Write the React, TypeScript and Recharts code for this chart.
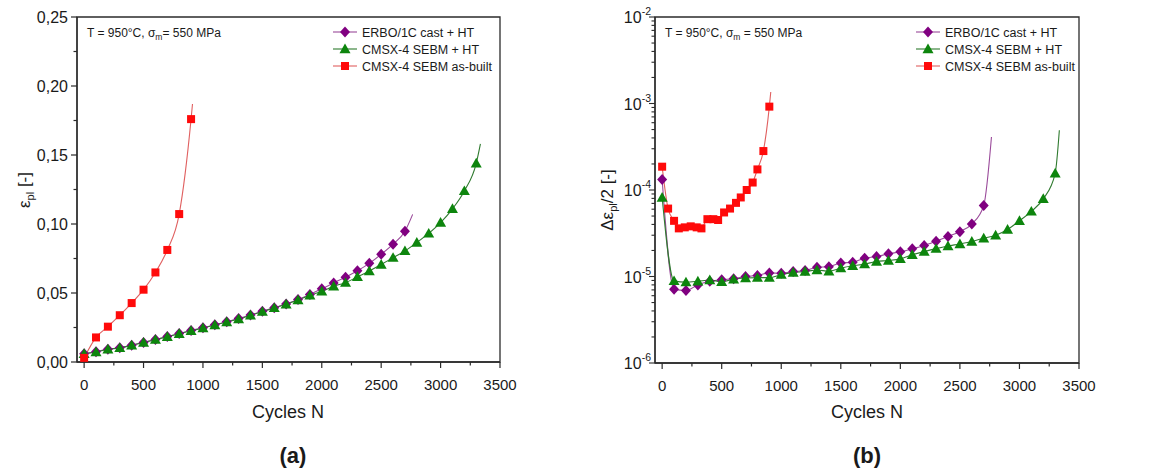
import React from "react";
import { ComposedChart, Line, Scatter, XAxis, YAxis, ReferenceArea } from "recharts";

const FONT = "Arial, 'Liberation Sans', sans-serif";
const AXIS = "#2b2b2b";
const TEXT = "#1a1a1a";

// cycle numbers of the measured points
const erboCycles = [0, 100, 200, 300, 400, 500, 600, 700, 800, 900, 1000, 1100, 1200, 1300, 1400, 1500, 1600, 1700, 1800, 1900, 2000, 2100, 2200, 2300, 2400, 2500, 2600, 2700];
const sebmHtCycles = [...erboCycles, 2800, 2900, 3000, 3100, 3200, 3300];
const asBuiltCyclesA = [0, 100, 200, 300, 400, 500, 600, 700, 800, 900];
const asBuiltCyclesB = [0, 50, 100, 140, 190, 240, 290, 330, 380, 430, 470, 520, 570, 620, 660, 710, 760, 800, 850, 900];

// (a) accumulated plastic strain
const erboStrain = [0.006, 0.0075, 0.0093, 0.0103, 0.0122, 0.0142, 0.0163, 0.0184, 0.0206, 0.0228, 0.0248, 0.027, 0.0292, 0.0315, 0.034, 0.0367, 0.0394, 0.0421, 0.0453, 0.049, 0.053, 0.0573, 0.0615, 0.0661, 0.0715, 0.078, 0.0854, 0.0948];
const sebmHtStrain = [0.006, 0.0072, 0.0092, 0.0102, 0.0121, 0.0141, 0.0162, 0.0183, 0.0205, 0.0226, 0.0246, 0.0268, 0.029, 0.0312, 0.0338, 0.0365, 0.0392, 0.0419, 0.0449, 0.0483, 0.0512, 0.0549, 0.0575, 0.0617, 0.0659, 0.0707, 0.0756, 0.0805, 0.0866, 0.0932, 0.101, 0.111, 0.124, 0.144];
const asBuiltStrain = [0.003, 0.0178, 0.0256, 0.0339, 0.0427, 0.0524, 0.0649, 0.0812, 0.1072, 0.176];

// (b) plastic strain amplitude
const erboAmp = [1.32e-4, 7.1e-6, 6.9e-6, 8.0e-6, 8.8e-6, 9.2e-6, 9.4e-6, 1.0e-5, 1.03e-5, 1.1e-5, 1.09e-5, 1.14e-5, 1.17e-5, 1.28e-5, 1.3e-5, 1.43e-5, 1.46e-5, 1.63e-5, 1.7e-5, 1.83e-5, 1.93e-5, 2.09e-5, 2.28e-5, 2.56e-5, 2.9e-5, 3.3e-5, 4.04e-5, 6.6e-5];
const sebmHtAmp = [8.2e-5, 8.9e-6, 8.6e-6, 8.8e-6, 9.1e-6, 8.7e-6, 9.3e-6, 9.6e-6, 9.7e-6, 9.7e-6, 1.05e-5, 1.11e-5, 1.14e-5, 1.19e-5, 1.15e-5, 1.25e-5, 1.33e-5, 1.39e-5, 1.49e-5, 1.53e-5, 1.6e-5, 1.78e-5, 1.94e-5, 2.1e-5, 2.25e-5, 2.38e-5, 2.54e-5, 2.77e-5, 3.0e-5, 3.5e-5, 4.4e-5, 5.66e-5, 7.9e-5, 1.56e-4];
const asBuiltAmp = [1.86e-4, 6.1e-5, 4.4e-5, 3.6e-5, 3.7e-5, 3.8e-5, 3.7e-5, 3.6e-5, 4.6e-5, 4.6e-5, 4.5e-5, 5.5e-5, 6.1e-5, 7.1e-5, 8.2e-5, 1.0e-4, 1.22e-4, 1.73e-4, 2.82e-4, 9.2e-4];

// where the fitted curves end (cycles, value)
const erboEndA = [2765, 0.107];
const sebmHtEndA = [3335, 0.158];
const asBuiltEndA = [912, 0.187];
const erboEndB = [2765, 4.1e-4];
const sebmHtEndB = [3335, 4.9e-4];
const asBuiltEndB = [912, 1.36e-3];

const seriesNames = ["ERBO/1C cast + HT", "CMSX-4 SEBM + HT", "CMSX-4 SEBM as-built"];

const cycleTicks = [0, 250, 500, 750, 1000, 1250, 1500, 1750, 2000, 2250, 2500, 2750, 3000, 3250, 3500];
const strainTicks = [0, 0.025, 0.05, 0.075, 0.1, 0.125, 0.15, 0.175, 0.2, 0.225, 0.25];
const ampTicks: number[] = [];
for (let e = -6; e <= -3; e++) for (let m = 1; m <= 9; m++) ampTicks.push(m * Math.pow(10, e));
ampTicks.push(1e-2);

type Shape = "diamond" | "triangle" | "square";
type Pt = { n: number; v: number };
const zip = (xs: number[], ys: number[]): Pt[] => xs.map((n, i) => ({ n, v: ys[i] }));
const withEnd = (pts: Pt[], end: number[]): Pt[] => [...pts, { n: end[0], v: end[1] }];

const STYLES: { shape: Shape; marker: string; line: string }[] = [
  { shape: "diamond", marker: "#800080", line: "#9a4a9a" },
  { shape: "triangle", marker: "#0d850d", line: "#2f7a2f" },
  { shape: "square", marker: "#ff0a0a", line: "#e06060" },
];

const Mark = ({ shape, cx, cy, fill }: { shape: Shape; cx: number; cy: number; fill: string }) => {
  if (shape === "square") return <rect x={cx - 4} y={cy - 4} width={8} height={8} fill={fill} />;
  if (shape === "diamond")
    return <polygon points={`${cx},${cy - 5.5} ${cx + 5},${cy} ${cx},${cy + 5.5} ${cx - 5},${cy}`} fill={fill} />;
  return <polygon points={`${cx},${cy - 5.5} ${cx + 5.5},${cy + 4.2} ${cx - 5.5},${cy + 4.2}`} fill={fill} />;
};

const CycleTick = (p: any) => {
  const { x, y, payload } = p;
  const major = payload.value % 500 === 0;
  return (
    <g>
      <line x1={x} x2={x} y1={y} y2={y + (major ? 6 : 3.5)} stroke={AXIS} strokeWidth={1.2} />
      {major && (
        <text x={x} y={y + 28} textAnchor="middle" fontSize={15} fill={TEXT} fontFamily={FONT}>
          {payload.value}
        </text>
      )}
    </g>
  );
};

const StrainTick = (p: any) => {
  const { x, y, payload } = p;
  const major = Math.round(payload.value * 1000) % 50 === 0;
  return (
    <g>
      <line x1={x} x2={x - (major ? 6 : 3.5)} y1={y} y2={y} stroke={AXIS} strokeWidth={1.2} />
      {major && (
        <text x={x - 9} y={y + 5.5} textAnchor="end" fontSize={16} fill={TEXT} fontFamily={FONT}>
          {payload.value.toFixed(2).replace(".", ",")}
        </text>
      )}
    </g>
  );
};

const AmpTick = (p: any) => {
  const { x, y, payload } = p;
  const e = Math.floor(Math.log10(payload.value) + 1e-9);
  const major = Math.round(payload.value / Math.pow(10, e)) === 1;
  return (
    <g>
      <line x1={x} x2={x - (major ? 6 : 3.5)} y1={y} y2={y} stroke={AXIS} strokeWidth={1.1} />
      {major && (
        <text x={x - 4} y={y + 6} textAnchor="end" fontSize={16} fill={TEXT} fontFamily={FONT}>
          10
          <tspan fontSize={10.5} dy={-8}>
            {String(e)}
          </tspan>
        </text>
      )}
    </g>
  );
};

const axisLine = { stroke: AXIS, strokeWidth: 1.3 };

type Series = { markers: Pt[]; curve: Pt[] };

const renderSeries = (list: Series[]) =>
  list.flatMap((s, i) => [
    <Line
      key={`line-${i}`}
      data={s.curve}
      dataKey="v"
      type="monotone"
      stroke={STYLES[i].line}
      strokeWidth={1.1}
      dot={false}
      activeDot={false}
      isAnimationActive={false}
    />,
    <Scatter
      key={`pts-${i}`}
      data={s.markers}
      dataKey="v"
      isAnimationActive={false}
      shape={(p: any) => <Mark shape={STYLES[i].shape} cx={p.cx} cy={p.cy} fill={STYLES[i].marker} />}
    />,
  ]);

const seriesA: Series[] = [
  { markers: zip(erboCycles, erboStrain), curve: withEnd(zip(erboCycles, erboStrain), erboEndA) },
  { markers: zip(sebmHtCycles, sebmHtStrain), curve: withEnd(zip(sebmHtCycles, sebmHtStrain), sebmHtEndA) },
  { markers: zip(asBuiltCyclesA, asBuiltStrain), curve: withEnd(zip(asBuiltCyclesA, asBuiltStrain), asBuiltEndA) },
];

const seriesB: Series[] = [
  { markers: zip(erboCycles, erboAmp), curve: withEnd(zip(erboCycles, erboAmp), erboEndB) },
  { markers: zip(sebmHtCycles, sebmHtAmp), curve: withEnd(zip(sebmHtCycles, sebmHtAmp), sebmHtEndB) },
  { markers: zip(asBuiltCyclesB, asBuiltAmp), curve: withEnd(zip(asBuiltCyclesB, asBuiltAmp), asBuiltEndB) },
];

const StrainChart = () => (
  <ComposedChart width={520} height={470} margin={{ top: 17, right: 20, bottom: 8, left: 17 }}>
    <XAxis
      type="number"
      dataKey="n"
      domain={[-60, 3500]}
      ticks={cycleTicks}
      interval={0}
      allowDataOverflow
      tickLine={false}
      tickSize={0}
      tickMargin={0}
      axisLine={axisLine}
      tick={CycleTick}
      height={100}
    />
    <YAxis
      type="number"
      dataKey="v"
      domain={[0, 0.25]}
      ticks={strainTicks}
      interval={0}
      allowDataOverflow
      tickLine={false}
      tickSize={0}
      tickMargin={0}
      axisLine={axisLine}
      tick={StrainTick}
      width={60}
    />
    <ReferenceArea x1={-60} x2={3500} y1={0} y2={0.25} fill="none" stroke={AXIS} strokeWidth={1.3} />
    {renderSeries(seriesA)}
  </ComposedChart>
);

const AmplitudeChart = () => (
  <ComposedChart width={525} height={470} margin={{ top: 17, right: 21, bottom: 7, left: 20 }}>
    <XAxis
      type="number"
      dataKey="n"
      domain={[-60, 3500]}
      ticks={cycleTicks}
      interval={0}
      allowDataOverflow
      tickLine={false}
      tickSize={0}
      tickMargin={0}
      axisLine={axisLine}
      tick={CycleTick}
      height={100}
    />
    <YAxis
      type="number"
      dataKey="v"
      scale="log"
      domain={[1e-6, 1e-2]}
      ticks={ampTicks}
      interval={0}
      allowDataOverflow
      tickLine={false}
      tickSize={0}
      tickMargin={0}
      axisLine={axisLine}
      tick={AmpTick}
      width={60}
    />
    <ReferenceArea x1={-60} x2={3500} y1={1e-6} y2={1e-2} fill="none" stroke={AXIS} strokeWidth={1.3} />
    {renderSeries(seriesB)}
  </ComposedChart>
);

// legend, test conditions, axis titles and panel captions
const Legend = ({ x, y }: { x: number; y: number }) => (
  <g>
    {seriesNames.map((name, i) => (
      <g key={name}>
        <line x1={x} x2={x + 24} y1={y + i * 17} y2={y + i * 17} stroke={STYLES[i].line} strokeWidth={1.1} />
        <Mark shape={STYLES[i].shape} cx={x + 12} cy={y + i * 17} fill={STYLES[i].marker} />
        <text x={x + 29} y={y + i * 17 + 4.5} fontSize={12.5} fill={TEXT} fontFamily={FONT}>
          {name}
        </text>
      </g>
    ))}
  </g>
);

const Conditions = ({ x, y, gap }: { x: number; y: number; gap: string }) => (
  <text x={x} y={y} fontSize={12} fill={TEXT} fontFamily={FONT}>
    T = 950°C, σ
    <tspan fontSize={8.5} dy={3}>
      m
    </tspan>
    <tspan dy={-3}>{gap}= 550 MPa</tspan>
  </text>
);

const Overlay = () => (
  <svg width={1153} height={470} style={{ position: "absolute", left: 0, top: 0, pointerEvents: "none" }}>
    <Conditions x={87} y={37} gap="" />
    <Conditions x={665} y={37} gap=" " />
    <Legend x={333} y={32} />
    <Legend x={916} y={32} />

    <text transform="rotate(-90 30 190)" x={30} y={190} textAnchor="middle" fontSize={17} fill={TEXT} fontFamily={FONT}>
      ε
      <tspan fontSize={11} dy={4}>
        pl
      </tspan>
      <tspan dy={-4}> [-]</tspan>
    </text>
    <text transform="rotate(-90 613 200)" x={613} y={200} textAnchor="middle" fontSize={17} fill={TEXT} fontFamily={FONT}>
      Δε
      <tspan fontSize={11} dy={4}>
        pl
      </tspan>
      <tspan dy={-4}>/2 [-]</tspan>
    </text>

    <text x={288} y={418} textAnchor="middle" fontSize={18} fill={TEXT} fontFamily={FONT}>
      Cycles N
    </text>
    <text x={867} y={418} textAnchor="middle" fontSize={18} fill={TEXT} fontFamily={FONT}>
      Cycles N
    </text>
    <text x={293} y={463} textAnchor="middle" fontSize={22} fontWeight="bold" fill={TEXT} fontFamily={FONT}>
      (a)
    </text>
    <text x={867} y={463} textAnchor="middle" fontSize={22} fontWeight="bold" fill={TEXT} fontFamily={FONT}>
      (b)
    </text>
  </svg>
);

export default function App() {
  return (
    <div style={{ position: "absolute", left: 0, top: 0, width: 1153, height: 470, background: "#fff", fontFamily: FONT }}>
      <div style={{ position: "absolute", left: 0, top: 0 }}>
        <StrainChart />
      </div>
      <div style={{ position: "absolute", left: 575, top: 0 }}>
        <AmplitudeChart />
      </div>
      <Overlay />
    </div>
  );
}
